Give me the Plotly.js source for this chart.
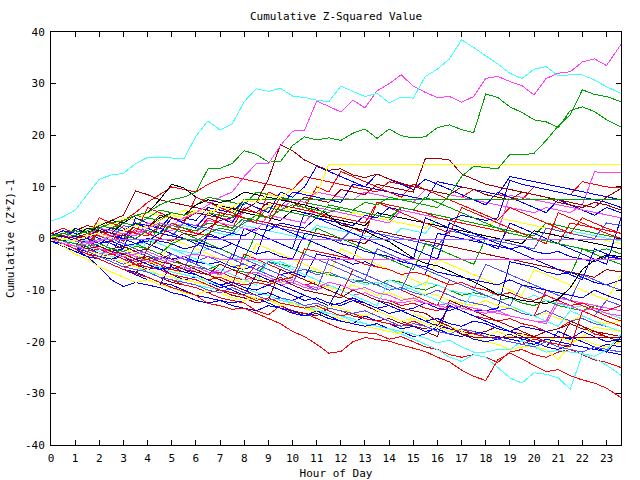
<!DOCTYPE html>
<html>
<head>
<meta charset="utf-8">
<script src="https://cdn.plot.ly/plotly-3.0.1.min.js"></script>
<style>
html,body{margin:0;padding:0;background:#fff;}
#chart{width:640px;height:480px;}
.js-line{shape-rendering:crispEdges;}
</style>
</head>
<body>
<div id="chart"></div>
<script>
// Hour of day sample positions
const hours = [0,0.5,1,1.5,2,2.5,3,3.5,4,4.5,5,5.5,6,6.5,7,7.5,8,8.5,9,9.5,10,10.5,11,11.5,
  12,12.5,13,13.5,14,14.5,15,15.5,16,16.5,17,17.5,18,18.5,19,19.5,20,20.5,21,21.5,22,22.5,23,23.6];

// ---- series values (cumulative Z*Z-1) ----
const cyanTop = [3.4,4.2,5.5,8.5,11.5,12.3,12.6,14.5,15.7,15.6,15.6,15.4,
  19.8,22.8,21.0,22.2,26.5,29.0,28.5,29.1,27.6,27.3,26.8,26.5,
  29.5,28.5,27.5,28.1,26.3,27.4,27.2,31.4,32.8,34.8,38.5,37.0,
  35.4,33.8,32.0,31.0,32.8,33.3,31.5,31.7,31.7,30.7,29.4,28.1];
const magentaTop = [0,-1,-1.5,-1,-0.5,0.5,1,0.5,2,3,2.5,4,
  5,6.5,8,9,12,14.5,14.5,18,20.8,21,26.6,25.6,
  24.5,26.8,25.3,28.6,30,31.7,29.5,28.3,27.3,27.5,26.4,27.5,
  31,31.4,30.4,29.6,27.8,31,32,32.3,34.2,34.8,33.5,37.6];
const greenUp1 = [0.5,1,1.5,1,2,3,3.5,4.5,5,6.5,7.5,8,
  9,13.5,13.6,14.5,17,16.3,14.8,14.9,18,19.7,19.1,19.5,
  19,20.4,21.2,19.4,21.2,19.9,19.5,19.7,21.5,22,21.1,20.5,
  28,27.3,25.5,24.4,23.0,22.6,21.5,24.8,25.5,24.6,23,21.6];
const greenUp2 = [0,-0.5,-1,-1.5,-1,-2,-2.5,-1.5,-2,-3,-1,0,
  -0.5,1,2,1.5,3,4.5,4,5.5,6.5,6,5.5,5,
  6,5.5,7,6.5,8,7.5,7,6.5,6,8.4,12,14,
  13.8,13.5,16.3,16.2,16.5,19,21.8,24,28.8,27.9,27.5,26.5];
const yellowFlatHi = [0.5,0,-0.5,0.5,1,0,1.5,2.5,2,3.5,4.5,4,
  5.5,5,6.5,6,7.5,7,8.5,8,9.5,9,8.5,14.4,
  14.4,14.4,14.4,14.4,14.4,14.4,14.4,14.4,14.4,14.4,14.4,14.4,
  14.4,14.4,14.4,14.4,14.4,14.4,14.4,14.4,14.4,14.4,14.4,14.4];
const darkredFlat = [0,-0.5,-1,-2,-1.5,-2.5,-3,-4,-3.5,-4.5,-5,-6,
  -6.5,-7,-5,-6,-7,-8,-8.5,-7.5,-9,-10,-10.5,-11,
  -11.5,-10,-11,-12,-12.5,-13.5,-14,-14.5,-16,-17,-18.5,-19.1,
  -19.1,-19.1,-19.1,-19.1,-19.1,-19.1,-19.1,-19.1,-19.1,-19.1,-19.1,-19.1];
const lavenderFlat = [0.5,0,-0.5,-0.8,-0.2,-0.2,-0.2,-0.2,-0.2,-0.2,-0.2,-0.2,
  -0.2,-0.2,-0.2,-0.2,-0.2,-0.2,-0.2,-0.2,-0.2,-0.2,-0.2,-0.2,
  -0.2,-0.2,-0.2,-0.2,-0.2,-0.2,-0.2,-0.2,-0.2,-0.2,-0.2,-0.2,
  -0.2,-0.2,-0.2,-0.2,-0.2,-0.2,-0.2,-0.2,-0.2,-0.2,-0.2,-0.2];
const magentaFlat = [0,-0.5,-1.5,-1,-2,-2.5,-3.5,-3,-2.5,-3.5,-4.5,-3.5,
  -3,-3.5,-4,-4,-4,-4,-4,-4,-4,-4,-4,-4,
  -4,-4,-4,-4,-4,-4,-4,-4,-4,-4,-4,-4,
  -4,-4,-4,-4,-4,-4,-4,-4,-4,-4,-4,-4];
const greenFlat = [0,1,0.5,1.5,2.5,2,3,2.5,4,3.5,5,4.5,
  5.5,5,4.5,4,7.6,7.6,7.6,7.6,7.6,7.6,7.6,7.6,
  7.6,7.6,7.6,7.6,7.6,7.6,7.6,7.6,7.6,7.6,7.6,7.6,
  7.6,7.6,7.6,7.6,7.6,7.6,7.6,7.6,7.6,7.6,7.6,7.6];
const redLow = [0,-1,-2,-3,-4,-5,-6,-6.8,-7.5,-8.5,-9.5,-10.2,
  -11,-12.6,-13,-13.7,-13.5,-14.5,-15.5,-16.5,-18,-19,-20.5,-22.2,
  -21.9,-20,-19.2,-19.5,-19.9,-20.6,-21.3,-21.9,-23,-23.9,-25.5,-26.7,
  -27.5,-23.5,-22.2,-23.3,-24.6,-25.8,-25.4,-26.6,-27.4,-28,-29,-30.8];
const darkred1 = [0,-0.5,-1,-1.5,-1,-2,-1.5,-2.5,-2,0,-0.5,1,
  0.5,2,3.5,4,5.5,7,11.5,18.2,17.0,15.2,14.1,13.2,
  13.5,12.3,11.8,12.5,11.5,10.8,10,9.5,9,8.5,10,9.5,
  8.5,8,7.5,9,8.5,8,7,6.5,6,7,6.5,5.5];
const darkred2 = [1,0.5,0,0.5,1.5,1,0.5,2.5,2,4.5,4,3.5,
  5,4.5,4,6,5.5,5,7,6.5,6,8,7.5,7,
  9.5,9,8.5,10.5,10,9.5,9,15.5,15.5,15.2,12.5,11.5,
  10.5,10,9.5,9,8.5,8,7.5,7,6.5,6,8,9.7];
const darkred3 = [0.5,1,1.5,2.5,2,3.5,4.5,9.2,8.5,7.5,7,6.5,
  6,5.5,5,4.5,4,3.5,3,2.5,2,1.5,1,0.5,
  0,-0.5,-1,1.5,1,0.5,0,-0.5,-1,-1.5,-2,-2.5,
  -3,-3.5,-4,-4.5,-5,-5.5,-6,-6.5,-7,-7.5,-6,-6.5];
const darkred4 = [-0.5,-1,-2,-3,-3.5,-4.5,-5.5,-6,-6.5,-7.5,-8.5,-9,
  -9.5,-10.5,-10,-11,-11.5,-12.5,-12,-13,-14,-14.5,-15,-13.5,
  -14,-15,-15.5,-16,-15.5,-16.5,-17,-17.5,-16.5,-17.5,-18,-18.5,
  -18,-17,-18,-18.5,-19,-18,-17.5,-16.5,-17.5,-18,-18.5,-19];
const darkred5 = [0,-1,-2,-3,-4,-5,-6,-7,-2,-3,-4,-5,
  -6,-7,-8,-9,-10,-11,-12,-6,-7,-8,-9,-10,
  -11,-12,-13,-14,-15,-16,-17,-18,-19,-12,-13,-14,
  -15,-16,-17,-18,-19,-20,-21,-16,-17,-18,-19,-20];
const red1 = [0.5,0,1.5,1,2.5,2,3.5,5,7,8.5,10,9.5,
  9,10.5,11.5,12,11.5,11,10.5,10,9.5,12,11.5,11,
  10.5,10,9.5,9,11,10.5,10,9.5,9,8.5,8,9.5,
  9,8.5,8,7.5,10,9.5,9,8.5,11,10.5,10,9.8];
const red2 = [0,-1,-2,-2.5,-3.5,-3,-4,-5,-4.5,-5.5,-6,-5,
  -6,-7,-6.5,-7.5,-8,-5,-6,-7,-8,-9,-8.5,-9.5,
  -10,-11,-10.5,-11.5,-12,-13,-12.5,-13.5,-14,-13,-14,-15,
  -15.5,-16,-15.5,-16.5,-17,-18,-17.5,-16,-17,-18.5,-19,-20];
const red3 = [0,-1,-1.5,-2.5,-3.5,-4.5,-5.5,-5,-6.5,-7.5,-8,-9,
  -9.5,-10.5,-11.5,-12,-12.5,-14,-14.8,-13,-14.3,-14.5,-15.5,-16.5,
  -17.5,-18,-18.2,-18.5,-19.5,-19,-20,-21,-21.5,-22.5,-23,-22.5,
  -23,-24,-22,-21.5,-22.5,-23,-22,-21.5,-22.5,-23.5,-24,-25];
const red4 = [0.5,-0.5,-1.5,-1,-2,-3,-3.5,-4.5,-4,-5,-6,-6.5,
  -7,-8,-7.5,-8.5,-9,-8.5,-9,-8,-7.5,-2,-2.5,-3,
  -3.5,-4,-5,-5.5,-6,-7,-6.5,-7,-8,-9,-8.5,-9.5,
  -10,-11,-10.5,-11.5,-12,-11,-12,-13,-12.5,-13.5,-14,-13];
const red5 = [0,-0.5,-1.5,-2.5,-2,-3,-4,-5,-5.5,-6,-7,-7.5,
  -8,-9,-10,-10.5,-11,-12,-11.5,-12.5,-13,-13.5,-13,-14,
  -15,-14.5,-15.5,-16,-16.5,-17,-16,-17,-18,-18.5,-17.5,-18.5,
  -19,-19.5,-20,-20.5,-19.5,-20,-20.5,-21,-14,-15,-16,-17];
const red6 = [1,0.5,0,1,0.5,-0.5,1.5,1,0.5,2.5,2,1.5,
  1,0.5,5,4.5,4,3.5,3,6.5,6,5.5,5,4.5,
  4,3.5,3,7,6.5,6,5.5,5,4,3.5,3,2.5,
  2,1.5,1,0.5,0,-0.5,-1,3,2.5,2,1.5,1];
const red7 = [0,-1,-2,-3,2,1,0,-1,-2,-3,-4,-5,
  -6,-7,-8,-9,-3,-4,-5,-6,-7,-8,-9,-10,
  -11,-6,-7,-8,-9,-10,-11,-12,-13,-8,-9,-10,
  -11,-12,-13,-14,-15,-10,-11,-12,-13,-14,-15,-16];
const red8 = [1,2,1,0,4,3,2,1,6,5,4,3,
  8,7,6,5,4,3,9,8,7,6,5,4,
  3,2,1,7,6,5,4,3,2,1,6,5,
  4,3,2,1,0,-1,5,4,3,2,1,0];
const red9 = [0,1,0,-1,1.5,0.5,-0.5,2,1,0,3,2,
  1,4,3,2,6,5,4,8,7,6,10,9,
  13,12,11,10,9,8,10.5,9.5,8.5,7.5,6.5,5.5,
  4.5,3.5,6,5,4,3,2,1,4,3,2,1];
const blue1 = [0.5,1,0.5,1.5,1,2,1.5,3,2.5,2,4.5,4,
  3.5,6,5.5,5,7.5,7,6.5,6,9,8.5,8,7.5,
  7,10.5,10,9.5,9,8.5,8,7.5,11,10.5,10,9.5,
  9,8.5,12,11.5,11,10.5,10,9.5,9,8.5,8,7.5];
const blue2 = [0,-1,-2,-1.5,-3,-4,-3.5,-5,-6,-5.5,-7,-8,
  -7.5,-8.5,-9.5,-9,-10,-11,-10.5,-11.5,-12,-11,-12,-13,
  -12.5,-11.5,-12.5,-13.5,-13,-14,-13.5,-12.5,-13.5,-14,-13,-14,
  -14,-13.5,-4.5,-5,-5.5,-6.5,-7,-6.5,-7.5,-8.5,-9,-8];
const blue3 = [0,0.5,-0.5,0,-1,-0.5,-1.5,-1,0,-0.5,-1,-2,
  -1.5,0.5,0,1,0.5,2,1.5,3,2.5,2,4,3.5,
  3,2.5,4.5,4,6,5.5,5,4.5,4,3.5,4.5,4,
  3.5,4,11.3,10.5,10,9.5,9,8.5,8,7.5,7,6];
const blue4 = [-0.5,-1.5,-2.5,-3.5,-4,-5,-6,-6.5,-7.5,-8.5,-9,-10,
  -11,-11.5,-12,-12.5,-12,-11.5,-12.5,-13.5,-14,-15,-14.5,-15.5,
  -16,-16.5,-15,-16,-16.5,-17.5,-17,-18,-17.5,-18.5,-19,-18,
  -18.5,-19,-19.5,-20,-20.5,-19.5,-20,-20.5,-21,-21.5,-20.5,-21];
const blue5 = [0,-1,-2,-3.5,-5.5,-8,-9.3,-8.5,-9,-9.5,-10.5,-11,
  -12,-12.5,-12,-13,-13.5,-14,-13,-13.5,-14.5,-15,-14,-15,
  -16,-16.5,-17,-16.5,-17.5,-18,-19,-18.5,-17,-17.5,-18.5,-19.5,
  -20,-19.5,-18.5,-19.5,-20,-21,-21.5,-20.5,-21,-21.5,-22,-22.5];
const blue6 = [0.5,0,-1,-0.5,-1.5,-2.5,-2,-3,-2.5,-3.5,-4,-3.5,
  -4.5,-5,-4.5,-5.5,-6,-5,-6,-7,-6.5,-7.5,-3,-3.5,
  -4,-5,-4.5,-5.5,-6,-7,-6.5,-7,1,0.5,0,-0.5,
  -1,-1.5,-2,-1.5,-2.5,-3,-2.5,-3.5,-4,-4.5,-3.5,-4];
const blue7 = [0,-0.5,0.5,0,-1,0.5,0,-1,-0.5,1,0.5,0,
  -0.5,-1.5,-2,-1,-2,-3,-2.5,-3.5,-4,1,0.5,0,
  -1,-1.5,-2.5,-3,-3.5,-4.5,-5,-5.5,-6.5,-7,-7.5,-8,
  -8.5,-9,-8,-9,-9.5,-10,-10.5,-11,-11.5,-10,-11,-12];
const blue8 = [-0.5,-1,-2,-2.5,-3.5,-4,-3,-4,-5,-6,-5.5,-6.5,
  -7,-8,-9,-8.5,-9.5,-10,-9,-10,-11,-12,-11.5,-12.5,
  -13,-12,-12.5,-13.5,-14.5,-14,-15,-16,-15.5,-16.5,-17,-16,
  -16.5,-17.5,-18,-17,-17.5,-18,-19,-19.5,-18,-19,-20,-19.5];
const blue9 = [0,-1,-2,-1,-2,-3,1,0,-1,-2,-3,-4,
  -5,1,0,-1,-2,-3,3,2,1,0,-1,-2,
  -3,-4,2,1,0,-1,-2,-3,-4,3,2,1,
  0,-1,-2,-3,-4,-5,-6,-7,-8,-2,-3,-4];
const blue10 = [0.5,-0.5,2,1,0,-1,-2,4,3,2,1,0,
  -1,-2,-3,-4,2,1,0,-1,-2,5,4,3,
  2,1,0,-1,-2,-3,-4,4,3,2,1,0,
  -1,-2,3,2,1,0,-1,-2,-3,-4,-5,4];
const blue11 = [0,-1,-2,-3,-4,-5,-6,-7,-8,-9,-5,-6,
  -7,-8,-9,-10,-11,-7,-8,-9,-10,-11,-12,-13,
  -9,-10,-11,-12,-13,-14,-15,-16,-17,-13,-14,-15,
  -16,-17,-18,-19,-20,-21,-18,-19,-20,-21,-22,-19];
const blue12 = [0.5,1.5,1,0,2,1,0,3,2,1,4,3,
  2,5,4,3,7,6,5,9,8,10,14,13,
  12,11,10,12.5,11.5,10.5,9.5,11.5,10.5,9.5,8.5,7.5,
  6.5,9,8,7,6,5,7.5,6.5,5.5,4.5,6,5];
const lightBlue1 = [0,-0.5,-1,-2,-1.5,-2.5,-3,-2.5,-3.5,-4,-3,-4,
  -4.5,-3.5,-4.5,-5.5,-5,-6,-4.5,-5.5,-6.5,-6,-7,-6.5,
  -7.5,-8.5,-8,-9,-10,-9.5,-10.5,-11,-10,-11,-12,-12.5,
  -13,-14,-13.5,-14.5,-15,-14,-15,-16,-15.5,-16.5,-17,-18];
const lightBlue2 = [1,0.5,1.5,1,0.5,0,2.5,2,1.5,1,0.5,3,
  2.5,2,1.5,1,3.5,3,2.5,2,1.5,1,0.5,0,
  -0.5,2,1.5,1,0.5,0,-0.5,-1,-1.5,1.5,1,0.5,
  0,-0.5,-1,-1.5,-2,2,1.5,1,0.5,0,3,2.5];
const lightBlue3 = [0,-1,-1.5,-2.5,-3.5,-4.5,-5.5,-6,-6.5,-7.5,-8,-8.5,
  -9,-10,-10.5,-9.5,-10.5,-11,-12,-11.5,-12,-13,-12.5,-13.5,
  -14,-14.5,-14,-15,-16,-17,-16.5,-17,-18,-18.5,-17.5,-18,
  -19,-19.5,-20,-20.5,-21,-20,-21,-21.5,-22,-21,-21.5,-22];
const lightBlue4 = [1,0,-1,-2,-3,-4,-5,-4,-5,-6,-3,-4,
  -5,-6,-7,-3,-4,-5,-6,-7,-8,-9,-10,-4,
  -5,-6,-7,-8,-9,-10,-5,-6,-7,-8,-9,-10,
  -11,-12,-13,-9,-10,-11,-12,-13,-14,-15,-12,-13];
const lightBlue5 = [0,-1,-2,-3,-4,0,-1,-2,-3,-4,-5,-6,
  -1,-2,-3,-4,-5,-6,-7,-8,-9,-3,-4,-5,
  -6,-7,-8,-2,-3,-4,-5,-6,-7,-8,-9,-10,
  -5,-6,-7,-8,-9,-10,-11,-12,-7,-8,-9,-10];
const magenta2 = [0,0.5,-0.5,0,1,0.5,0,1.5,1,2,1.5,3,
  2.5,4.5,4,3.5,5,4.5,6,5.5,7.5,7,9,8.5,
  8,7.5,9,8.5,8,7.5,7,9.5,9,8.5,8,7.5,
  7,6.5,6,5.5,5,6,5.5,5,6.5,12.9,12.8,12.8];
const magenta3 = [0,-0.5,-1.5,-2,-3,-2.5,-3.5,-4.5,-4,-5,-6,-5.5,
  -6.5,-7,-6,-7,-8,-7.5,-8.5,-9,-8.5,-9.5,-10,-9,
  -10,-11,-10.5,-11.5,-12,-12.5,-12,-12.5,-13,-13.5,-13,-13.5,
  -14,-14.5,-15,-15.5,-16,-16,-11.5,-12,-12.5,-13,-13.5,-14];
const magenta4 = [0.5,1,0,0.5,2,1.5,1,0.5,3,2.5,2,1.5,
  1,3.5,3,2.5,2,1.5,4.5,4,3.5,3,6,5.5,
  5,4.5,4,3.5,3,5.5,5,4.5,4,3.5,3,2.5,
  2,1.5,8.3,8,7.5,7,6.5,6,5.5,5,4.5,4];
const magenta5 = [0,-1,-1.5,-0.5,-2,-3,-2.5,-3.5,-4.5,-4,-5,-6,
  -5.5,-6.5,-7,-6,-7,-6.5,-7.5,-8.5,-8,-9,-9.5,-8.5,
  -9,-10,-9.5,-10.5,-11,-12,-11.5,-12.5,-13,-12.5,-13.5,-14,
  -14.5,-14,-15,-15.5,-16,-16.5,-12.5,-13,-14,-13.5,-14.5,-15];
const cyan2 = [0,-0.5,-1.5,-2.5,-3,-4,-4.5,-5.5,-6.5,-7,-7.5,-8.5,
  -9,-9.5,-10,-10.5,-11,-11.5,-12,-11.5,-12.5,-13,-14,-14.5,
  -15,-16,-16.5,-17,-17.5,-18.5,-19.5,-20.5,-21.5,-23,-23.8,-22.5,
  -23,-25,-27,-28,-26,-26.3,-27,-29.2,-22.4,-23.3,-24.5,-26.5];
const cyan3 = [0.5,0,-1,-1.5,-2.5,-3.5,-3,-4,-5,-5.5,-6.5,-7,
  -7.5,-8.5,-9,-8.5,-9.5,-10.5,-11,-12,-12.5,-13,-13.5,-14.5,
  -15,-15.5,-16.5,-17,-17.5,-18,-18.5,-19.3,-20.2,-19.7,-21,-22,
  -22,-21.5,-21.6,-19.8,-21,-22,-21.7,-22,-22.3,-22.8,-21.6,-18.6];
const cyan4 = [1,0.5,0,-0.5,0.5,0,-1,-1.5,-0.5,-1,-2,-2.5,
  -3,-2,-3,-4,-3.5,-4.5,-5,-4.5,-5.5,-6,-7,-6.5,
  -7.5,-8,-9,-8.5,-9.5,-10,-9.5,-8.5,-9,-10,-10.5,-11,
  -11.5,-10.5,-11.5,-12,-11,-12,-12.5,-13.5,-13,-14,-14.5,-15.5];
const cyan5 = [0.5,1.5,1,2,1.5,1,2.5,2,1.5,1,3,2.5,
  2,1.5,1,0.5,2.5,2,1.5,1,0.5,0,2.5,2,
  1.5,1,0.5,0,-0.5,2,1.5,1,4,3.5,3,2.5,
  2,1.5,1,0.5,0,-0.5,-1,1.5,1,0.5,0,-0.5];
const cyan6 = [0,-1,-2,-1,-2,-3,-4,-5,0,-1,-2,-3,
  -4,-5,-6,-7,-8,-9,-4,-5,-6,-7,-8,-9,
  -10,-11,-12,-13,-8,-9,-10,-11,-12,-13,-14,-10,
  -11,-12,-13,-14,-15,-16,-17,-14,-15,-16,-17,-18];
const yellow2 = [0,-1,-1.5,-2.5,-3,-4,-4.5,-5.5,-6,-7,-7.5,-8,
  -8.5,-9,-10,-10.5,-11,-11.5,-12,-12.5,-13,-13.5,-14.5,-15,
  -15.5,-16.5,-17,-17.5,-18,-18.5,-14.5,-15.5,-16.5,-17,-18,-19,
  -20,-20.5,-21.5,-21,-21,-21.5,-23.5,-20.5,-19,-17.2,-17.5,-18];
const yellow3 = [0,-0.5,-1,-2,-1.5,-2.5,-3,-3.5,-4.5,-5,-6,-7,
  -7.5,-8,-7,-8,-8.5,-7.5,-8.5,-9,-7,-8,-8.5,-9.5,
  -10,-9,-10,-11,-10.5,-11.5,-12,-10.5,-11,-12,-12.5,-13,
  -12,-13,-13.5,-14,-15,-14.5,-15.5,-16,-15,-16,-16.5,-16];
const yellow4 = [0.5,1,2,1.5,3,2.5,4,3.5,5,4.5,4,5.5,
  5,4.5,6,5.5,5,4.5,6.5,6,5.5,5,4.5,4,
  3.5,5,4.5,4,3.5,3,2.5,2,4,3.5,3,2.5,
  2,4,3.5,3,2.5,2,1.5,1,0.5,0,-0.5,-1];
const yellow5 = [0,-1.5,-3,-4,-5.5,-6.5,-7.5,-8.5,-8,-9,-9.5,-10.5,
  -11,-10,-10.5,-11.5,-12,-11.5,-12,-13,-12.5,-13.5,-14,-13,
  -13.5,-14.5,-15,-14,-15,-16,-15.5,-16.5,-17,-18,-17.5,-18.5,
  -19,-18,-19,-18.5,-19.5,-20,-19,-20,-19.5,-20.5,-21,-20];
const yellow6 = [0,-1,-2,1,0,-1,-2,-3,-4,-5,0,-1,
  -2,-3,-4,-5,-6,-1,-2,-3,-4,-5,-6,-7,
  -2,-3,-4,-5,-6,-7,-8,-9,-4,-5,-6,-7,
  -8,-9,-10,-11,-6,-7,-8,-9,-10,-11,-12,-7];
const black1 = [0.5,1,0.5,2,1.5,1,3,2.5,2,4,5,4.5,
  6.5,7.5,7,7.5,9,8.5,8,7.5,7,6.5,5.8,4.5,
  2.6,2,1.5,0.3,-0.6,-2.2,-3.8,-4.8,-5.3,-6.3,-7.3,-8.4,
  -9.6,-10.8,-11.4,-12,-12.3,-12.6,-11.8,-9.5,-6,-4.2,-3.2,-3.5];
const black2 = [0,0.5,1.5,1,2.5,3.5,3,4.5,5,7.5,10.5,9.8,
  8,7,6.4,5.8,5,4.5,4,3.5,5.5,5,4.5,4,
  3.5,3,2.5,5,4.5,4,3.5,3,2.5,2,1.5,1,
  0.5,0,-0.5,-1,1.5,1,0.5,0,-0.5,-1,-1.5,-2];
const green5 = [0,0.5,1.5,2.5,2,1.5,3,4.5,4,5.5,5,4.5,
  6.5,8,7.5,7,6.5,9,8.5,8,7.5,7,6.5,6,
  5.5,5,4.5,4,3.5,6,5.5,5,4.5,4,3.5,3,
  2.5,2,1.5,1,0.5,3,2.5,2,1.5,1,0.5,0];
const green6 = [0.5,0,-0.5,0.5,1.5,1,0.5,0,1.5,1,2.5,2,
  1.5,3,2.5,2,4,3.5,6,5.5,5,4.5,4,6.5,
  6,5.5,5,4.5,4,6,5.5,8,7,6,5,4,
  3,2,1,0.5,0,-0.5,-1,-1.5,-2,-2.5,-2,-3];
const green7 = [0,-0.5,-1,-1.5,-2.5,-2,-3,-3.5,-4,-3.5,-4.5,-5,
  -5.5,-6,-5,-6,-6.5,-7,-4.5,-5,-5.5,-6,-6.5,-7,
  -7.5,-8,-8.5,-9,-8,-8.5,-9.5,-10,-9,-10,-11,-10.5,
  -11,-12,-11.5,-12.5,-13,-12,-13,-13.5,-14,-13,-13.5,-14];
const green8 = [1,0,-1,-2,2,1,0,-1,-2,3,2,1,
  0,-1,-2,-3,-4,1,0,-1,-2,-3,2,1,
  0,-1,-2,-3,-4,-5,-6,-1,-2,-3,-4,-5,
  0,-1,-2,-3,-4,-5,-6,-7,-2,-3,-4,-5];

// ---- series list (drawing order) and their colours ----
const seriesData = [red1, green5, blue1, magenta2, cyan5, darkred3, yellow4, black2, lightBlue2,
  red2, green7, blue2, magenta3, cyan4, darkred4, yellow3, lightBlue1, blue6,
  red7, green8, blue9, cyan6, darkred5, yellow6, lightBlue4, blue10, red8, blue11, lightBlue5,
  red9, blue12,
  red3, blue3, magenta4, cyan2, yellow2, blue4, red4, blue5, magenta5, cyan3,
  yellow5, blue7, red5, blue8, lightBlue3, red6, green6, black1, darkred1, darkred2,
  redLow, greenFlat, lavenderFlat, magentaFlat, darkredFlat, yellowFlatHi,
  greenUp2, greenUp1, magentaTop, cyanTop];
const seriesColors = ['#ff0000','#00a000','#0000ff','#ff40ff','#40ffff','#a00000','#ffff00','#000000','#5050ff',
  '#ff0000','#00a000','#0000ff','#ff40ff','#40ffff','#a00000','#ffff00','#5050ff','#0000ff',
  '#ff0000','#00a000','#0000ff','#40ffff','#a00000','#ffff00','#5050ff','#0000ff','#ff0000','#0000ff','#5050ff',
  '#ff0000','#0000ff',
  '#ff0000','#0000ff','#ff40ff','#40ffff','#ffff00','#0000ff','#ff0000','#0000ff','#ff40ff','#40ffff',
  '#ffff00','#0000ff','#ff0000','#0000ff','#5050ff','#ff0000','#00a000','#000000','#a00000','#a00000',
  '#ff0000','#00a000','#b060ff','#ff40ff','#a00000','#ffff00',
  '#00a000','#00a000','#ff40ff','#40ffff'];

const xTicks = [0,1,2,3,4,5,6,7,8,9,10,11,12,13,14,15,16,17,18,19,20,21,22,23];
const yTicks = [-40,-30,-20,-10,0,10,20,30,40];

const traces = seriesData.map((ys, i) => ({
  type: 'scatter', mode: 'lines', x: hours, y: ys,
  line: {color: seriesColors[i], width: 1},
  hoverinfo: 'skip', showlegend: false
}));

const FONT = 'DejaVu Sans Mono, Liberation Mono, monospace';
const layout = {
  width: 640, height: 480,
  margin: {l: 51, r: 19, t: 32, b: 35},
  paper_bgcolor: '#ffffff', plot_bgcolor: '#ffffff',
  font: {family: FONT, size: 11, color: '#000'},
  title: {text: 'Cumulative Z-Squared Value', font: {family: FONT, size: 11, color: '#000'},
          x: 0.5, xref: 'paper', xanchor: 'center', y: 1 - 16/480, yref: 'container', yanchor: 'middle'},
  xaxis: {
    range: [0, 23.6], tickvals: xTicks, ticktext: xTicks.map(String),
    ticks: 'inside', ticklen: 5, tickwidth: 1, tickcolor: '#000',
    showline: true, linecolor: '#000', linewidth: 1, mirror: 'ticks',
    showgrid: false, zeroline: false, ticklabelstandoff: 3,
    tickfont: {family: FONT, size: 11, color: '#000'},
    title: {text: 'Hour of Day', font: {family: FONT, size: 11, color: '#000'}, standoff: 5}
  },
  yaxis: {
    range: [-40, 40], tickvals: yTicks, ticktext: yTicks.map(String),
    ticks: 'inside', ticklen: 5, tickwidth: 1, tickcolor: '#000',
    showline: true, linecolor: '#000', linewidth: 1, mirror: 'ticks',
    showgrid: false, zeroline: false, ticklabelstandoff: 3,
    tickfont: {family: FONT, size: 11, color: '#000'},
    title: {text: 'Cumulative (Z*Z)-1', font: {family: FONT, size: 11, color: '#000'}, standoff: 8}
  }
};

Plotly.newPlot('chart', traces, layout, {staticPlot: true, displayModeBar: false});
</script>
</body>
</html>
